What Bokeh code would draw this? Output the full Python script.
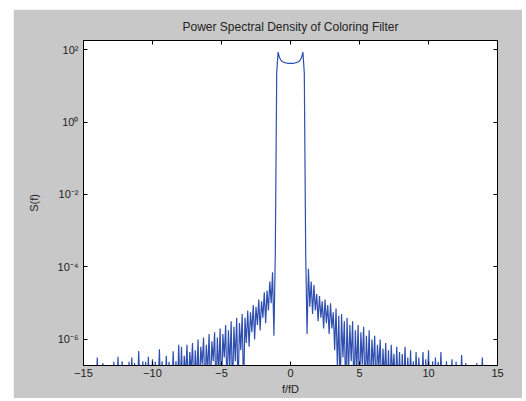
import numpy as np
from bokeh.plotting import figure
from bokeh.models import (Range1d, LinearAxis, LogAxis, FixedTicker,
                          CustomJSTickFormatter, Spacer)
from bokeh.layouts import row, column
from bokeh.embed import file_html
from bokeh.resources import INLINE

# ---- data (log10 of S(f)), sampled every 0.1 in f/fD from -15 to 15 ----
f_start = -15.0
f_step = 0.1

left_tail_log10 = [
    -7.5, -7.5, -7.5, -7.5, -7.5, -7.5, -7.5, -7.5, -7.5, -7.5,      # -15.0 .. -14.1
    -6.5, -7.5, -7.5, -7.5, -6.65, -7.5, -7.5, -7.5, -7.5, -7.5,     # -14.0 .. -13.1
    -7.5, -7.5, -6.62, -7.5, -7.5, -6.48, -7.5, -7.5, -6.6, -7.5,    # -13.0 .. -12.1
    -7.5, -7.5, -7.5, -6.62, -7.5, -6.5, -7.5, -6.65, -7.5, -7.5,    # -12.0 .. -11.1
    -6.32, -7.5, -7.5, -6.6, -7.5, -6.62, -7.5, -6.48, -7.5, -7.5,   # -11.0 .. -10.1
    -6.55, -7.5, -6.62, -7.5, -7.5, -6.27, -7.5, -6.6, -7.5, -7.5,   # -10.0 .. -9.1
    -6.45, -7.5, -6.62, -7.5, -7.5, -6.33, -7.5, -6.6, -7.5, -6.15,  # -9.0 .. -8.1
    -7.5, -6.2, -7.5, -6.45, -7.0, -6.15, -7.5, -6.35, -6.9, -6.1,   # -8.0 .. -7.1
    -7.5, -6.3, -7.2, -6.0, -7.5, -6.2, -6.7, -5.95, -7.5, -6.15,    # -7.0 .. -6.1
    -6.9, -5.85, -7.5, -6.05, -6.6, -5.8, -7.5, -5.95, -7.0, -5.7,   # -6.0 .. -5.1
    -7.5, -5.85, -6.5, -5.6, -7.5, -5.75, -6.8, -5.5, -7.5, -5.65,   # -5.0 .. -4.1
    -6.6, -5.4, -7.5, -5.55, -6.3, -5.3, -7.5, -5.4, -6.1, -5.2,     # -4.0 .. -3.1
    -6.2, -5.25, -5.8, -5.05, -6.0, -5.1, -5.6, -4.9, -5.75, -4.95,  # -3.0 .. -2.1
    -5.4, -4.7, -5.55, -4.65, -5.2, -4.4, -5.0, -4.15, -5.9, -3.6,   # -2.0 .. -1.1
]

main_lobe_log10 = [
    1.35, 1.93, 1.78, 1.71, 1.67, 1.65, 1.64, 1.63, 1.62, 1.62,      # -1.0 .. -0.1
    1.62,                                                            # 0.0
    1.62, 1.62, 1.63, 1.64, 1.65, 1.67, 1.71, 1.78, 1.93, 1.35,      # 0.1 .. 1.0
]

right_tail_log10 = [
    -3.6, -5.85, -4.05, -5.1, -4.4, -5.3, -4.5, -5.2, -4.75, -5.5,      # 1.1 .. 2.0
    -4.8, -5.4, -4.95, -5.7, -4.9, -5.55, -5.05, -5.85, -5.0, -5.7,     # 2.1 .. 3.0
    -5.25, -6.3, -5.15, -6.8, -5.35, -7.5, -5.3, -6.5, -5.5, -7.5,      # 3.1 .. 4.0
    -5.4, -7.0, -5.6, -6.6, -5.5, -7.5, -5.75, -6.9, -5.6, -7.5,        # 4.1 .. 5.0
    -5.8, -6.7, -5.65, -7.5, -5.9, -7.0, -5.75, -7.5, -6.0, -6.8,       # 5.1 .. 6.0
    -5.9, -7.5, -6.15, -6.8, -6.0, -7.5, -6.25, -7.1, -6.1, -7.5,       # 6.1 .. 7.0
    -6.3, -7.5, -6.15, -7.0, -6.4, -7.5, -6.2, -7.5, -6.35, -7.5,       # 7.1 .. 8.0
    -6.4, -7.5, -6.2, -7.5, -6.5, -7.5, -6.3, -7.5, -6.6, -7.5,         # 8.1 .. 9.0
    -6.35, -7.5, -6.5, -7.5, -7.5, -6.35, -7.5, -6.55, -7.5, -6.3,      # 9.1 .. 10.0
    -7.5, -7.5, -6.6, -7.5, -6.5, -7.5, -6.62, -7.5, -6.35, -7.5,       # 10.1 .. 11.0
    -7.5, -7.5, -6.6, -7.5, -7.5, -7.5, -6.55, -7.5, -7.5, -6.62,       # 11.1 .. 12.0
    -7.5, -7.5, -7.5, -6.43, -7.5, -7.5, -6.65, -7.5, -7.5, -7.5,       # 12.1 .. 13.0
    -7.5, -7.5, -7.5, -7.5, -6.65, -7.5, -7.5, -7.5, -6.5, -7.5,        # 13.1 .. 14.0
    -7.5, -7.5, -7.5, -7.5, -7.5, -7.5, -7.5, -7.5, -7.5, -7.5,         # 14.1 .. 15.0
]

x_ticks = [-15, -10, -5, 0, 5, 10, 15]
y_tick_exponents = [-6, -4, -2, 0, 2]

title_text = "Power Spectral Density of Coloring Filter"
x_label = "f/fD"
y_label = "S(f)"

# ---- build series ----
s_log = np.array(left_tail_log10 + main_lobe_log10 + right_tail_log10)
f = np.round(f_start + f_step * np.arange(len(s_log)), 2)
S = 10.0 ** s_log
y_ticks = [10.0 ** e for e in y_tick_exponents]

FONT = "Liberation Sans"
GRAY = "#c8c8c8"

p = figure(width=509, height=389,
           x_range=Range1d(-15, 15),
           y_range=Range1d(10 ** -6.72, 10 ** 2.25),
           y_axis_type="log",
           output_backend="svg", toolbar_location=None,
           title=title_text,
           background_fill_color="white", border_fill_color=GRAY,
           min_border_left=70, min_border_right=25,
           min_border_top=31, min_border_bottom=33)
p.outline_line_color = "black"
p.grid.visible = False

p.title.align = "center"
p.title.text_font = FONT
p.title.text_font_size = "12px"
p.title.text_font_style = "normal"
p.title.text_color = "#222222"
p.title.standoff = 13

p.line(f, S, line_color="#2f4fb0", line_width=1.2)

sup_fmt = CustomJSTickFormatter(code="""
const m = {'-':'\u207b','0':'\u2070','1':'\u00b9','2':'\u00b2','3':'\u00b3',
           '4':'\u2074','5':'\u2075','6':'\u2076','7':'\u2077','8':'\u2078','9':'\u2079'};
const e = Math.round(Math.log10(tick));
return '10' + String(e).split('').map(c => m[c]).join('');
""")
blank_fmt = CustomJSTickFormatter(code="return '';")

def style_axis(ax):
    ax.major_tick_in = 4
    ax.major_tick_out = 0
    ax.minor_tick_line_color = None
    ax.axis_line_color = "black"
    ax.major_tick_line_color = "black"
    ax.major_label_text_font = FONT
    ax.major_label_text_font_size = "11px"
    ax.major_label_text_color = "#222222"
    ax.axis_label_text_font = FONT
    ax.axis_label_text_font_size = "11px"
    ax.axis_label_text_font_style = "normal"
    ax.axis_label_text_color = "#222222"

xa = p.xaxis[0]
style_axis(xa)
xa.ticker = FixedTicker(ticks=x_ticks, minor_ticks=[])
xa.axis_label = x_label
xa.major_label_standoff = 3
xa.axis_label_standoff = 3

ya = p.yaxis[0]
style_axis(ya)
ya.ticker = FixedTicker(ticks=y_ticks, minor_ticks=[])
ya.formatter = sup_fmt
ya.axis_label = y_label
ya.major_label_standoff = 5
ya.axis_label_standoff = 15

top = LinearAxis(ticker=FixedTicker(ticks=x_ticks, minor_ticks=[]),
                 formatter=blank_fmt)
style_axis(top)
top.major_label_standoff = 0
p.add_layout(top, "above")

right = LogAxis(ticker=FixedTicker(ticks=y_ticks, minor_ticks=[]),
                formatter=blank_fmt)
style_axis(right)
right.major_label_standoff = 0
p.add_layout(right, "right")

layout = column(Spacer(width=522, height=9),
                row(Spacer(width=13, height=389), p))

open("out.html", "w").write(file_html(layout, INLINE))
